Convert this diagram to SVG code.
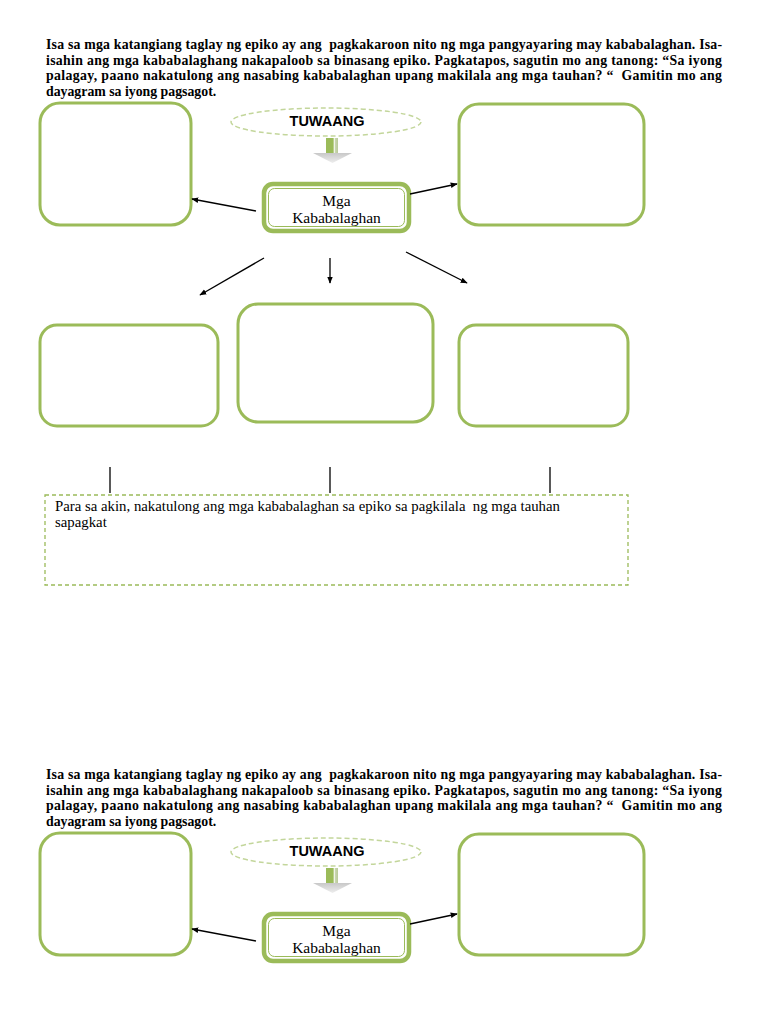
<svg xmlns="http://www.w3.org/2000/svg" width="768" height="1024" viewBox="0 0 768 1024">
<defs>
<style>
.hdr{font-family:"Liberation Serif","Times New Roman",serif;font-weight:bold;font-size:13.8px;fill:#000;white-space:pre}
.box{fill:#fff;stroke:#9BBB59;stroke-width:3}
.mga-o{fill:#fff;stroke:#9BBB59;stroke-width:4.5}
.mga-i{fill:none;stroke:#9BBB59;stroke-width:1}
.mga-t{font-family:"Liberation Serif","Times New Roman",serif;font-size:15.5px;fill:#000;text-anchor:middle}
.ell{fill:#fff;stroke:#C3D69B;stroke-width:1.5;stroke-dasharray:5,3}
.tuw{font-family:"Liberation Sans",Arial,sans-serif;font-weight:bold;font-size:14.5px;fill:#000;text-anchor:middle}
.con{stroke:#000;stroke-width:1.3;fill:none}
.arr{marker-end:url(#ah)}
.dash{fill:#fff;stroke:#9BBB59;stroke-width:1.3;stroke-dasharray:4,3}
.body{font-family:"Liberation Serif","Times New Roman",serif;font-size:14.8px;fill:#000;white-space:pre}
</style>
<marker id="ah" viewBox="0 0 10 10" refX="9" refY="5" markerWidth="7" markerHeight="7" markerUnits="userSpaceOnUse" orient="auto">
<path d="M0,1 L10,5 L0,9 Z" fill="#000"/>
</marker>
<linearGradient id="stemG" x1="0" y1="0" x2="1" y2="0">
<stop offset="0" stop-color="#9BBB59"/>
<stop offset="0.6" stop-color="#9BBB59"/>
<stop offset="0.68" stop-color="#ffffff"/>
<stop offset="0.78" stop-color="#c9d6ae"/>
<stop offset="1" stop-color="#b8c99a"/>
</linearGradient>
<linearGradient id="headG" x1="0" y1="0" x2="0" y2="1">
<stop offset="0" stop-color="#c8c8c8"/>
<stop offset="1" stop-color="#eeeeee"/>
</linearGradient>
</defs>
<rect width="768" height="1024" fill="#fff"/>

<!-- ===== Section 1 ===== -->
<g id="instructions1">
<text class="hdr" x="46" y="49" textLength="676" lengthAdjust="spacing">Isa sa mga katangiang taglay ng epiko ay ang  pagkakaroon nito ng mga pangyayaring may kababalaghan. Isa-</text>
<text class="hdr" x="46" y="64.5" textLength="676" lengthAdjust="spacing">isahin ang mga kababalaghang nakapaloob sa binasang epiko. Pagkatapos, sagutin mo ang tanong: “Sa iyong</text>
<text class="hdr" x="46" y="80" textLength="676" lengthAdjust="spacing">palagay, paano nakatulong ang nasabing kababalaghan upang makilala ang mga tauhan? “  Gamitin mo ang</text>
<text class="hdr" x="46" y="95.5">dayagram sa iyong pagsagot.</text>
</g>

<g id="tuwaang1">
<ellipse class="ell" cx="326" cy="122" rx="95" ry="14"/>
<text class="tuw" x="327" y="126">TUWAANG</text>
</g>
<g id="blockarrow1">
<rect x="326" y="138" width="12" height="15" fill="url(#stemG)"/>
<polygon points="313,153 352,153 332.5,163" fill="url(#headG)"/>
</g>

<g id="box-top-left1"><rect class="box" x="40" y="103" width="151" height="122" rx="20"/></g>
<g id="box-top-right1"><rect class="box" x="459" y="104" width="185" height="121" rx="20"/></g>

<g id="mga1">
<rect class="mga-o" x="264" y="184" width="145" height="47" rx="9"/>
<rect class="mga-i" x="268.5" y="188.5" width="136" height="38" rx="6"/>
<text class="mga-t" x="336.5" y="206">Mga</text>
<text class="mga-t" x="336.5" y="223">Kababalaghan</text>
</g>

<g id="box-mid-left1"><rect class="box" x="40" y="325" width="178" height="101" rx="17"/></g>
<g id="box-center1"><rect class="box" x="238" y="304" width="195" height="118" rx="20"/></g>
<g id="box-mid-right1"><rect class="box" x="459" y="325" width="169" height="101" rx="17"/></g>

<g id="answer1">
<rect class="dash" x="45" y="495" width="583" height="90"/>
<text class="body" x="55" y="511">Para sa akin, nakatulong ang mga kababalaghan sa epiko sa pagkilala  ng mga tauhan</text>
<text class="body" x="55" y="527">sapagkat</text>
</g>

<g id="connectors1">
<line class="con arr" x1="256" y1="211" x2="192" y2="199"/>
<line class="con arr" x1="410" y1="194" x2="457" y2="184"/>
<line class="con arr" x1="264" y1="258" x2="200" y2="295"/>
<line class="con arr" x1="330" y1="258" x2="330" y2="283"/>
<line class="con arr" x1="406" y1="252" x2="467" y2="283"/>
<line class="con" x1="110" y1="467" x2="110" y2="493"/>
<line class="con" x1="330" y1="467" x2="330" y2="493"/>
<line class="con" x1="550" y1="467" x2="550" y2="493"/>
</g>

<!-- ===== Section 2 ===== -->
<g id="instructions2">
<text class="hdr" x="46" y="779" textLength="676" lengthAdjust="spacing">Isa sa mga katangiang taglay ng epiko ay ang  pagkakaroon nito ng mga pangyayaring may kababalaghan. Isa-</text>
<text class="hdr" x="46" y="794.5" textLength="676" lengthAdjust="spacing">isahin ang mga kababalaghang nakapaloob sa binasang epiko. Pagkatapos, sagutin mo ang tanong: “Sa iyong</text>
<text class="hdr" x="46" y="810" textLength="676" lengthAdjust="spacing">palagay, paano nakatulong ang nasabing kababalaghan upang makilala ang mga tauhan? “  Gamitin mo ang</text>
<text class="hdr" x="46" y="825.5">dayagram sa iyong pagsagot.</text>
</g>

<g id="tuwaang2">
<ellipse class="ell" cx="326" cy="852" rx="95" ry="14"/>
<text class="tuw" x="327" y="856">TUWAANG</text>
</g>
<g id="blockarrow2">
<rect x="326" y="868" width="12" height="15" fill="url(#stemG)"/>
<polygon points="313,883 352,883 332.5,893" fill="url(#headG)"/>
</g>

<g id="box-top-left2"><rect class="box" x="40" y="833" width="151" height="122" rx="20"/></g>
<g id="box-top-right2"><rect class="box" x="459" y="834" width="185" height="121" rx="20"/></g>

<g id="mga2">
<rect class="mga-o" x="264" y="914" width="145" height="47" rx="9"/>
<rect class="mga-i" x="268.5" y="918.5" width="136" height="38" rx="6"/>
<text class="mga-t" x="336.5" y="936">Mga</text>
<text class="mga-t" x="336.5" y="953">Kababalaghan</text>
</g>

<g id="connectors2">
<line class="con arr" x1="256" y1="941" x2="192" y2="929"/>
<line class="con arr" x1="410" y1="924" x2="457" y2="914"/>
</g>
</svg>
